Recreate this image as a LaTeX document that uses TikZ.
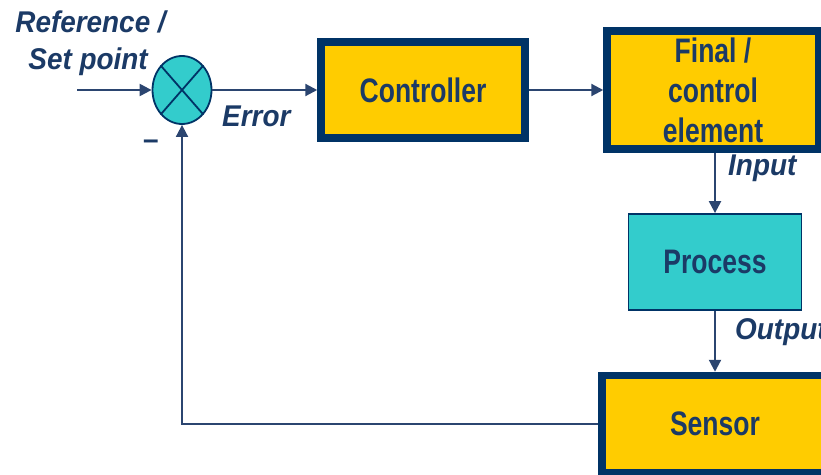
\documentclass[tikz,border=0pt]{standalone}
\usepackage{fontspec}
\setmainfont{Liberation Sans}[FakeStretch=0.93]
\newfontfamily\blockfont{Liberation Sans}[FakeStretch=0.78]
\usetikzlibrary{arrows.meta,shapes.geometric}
\definecolor{navy}{HTML}{003366}
\definecolor{ink}{HTML}{1B3A66}
\definecolor{wire}{HTML}{2B4570}
\definecolor{gold}{HTML}{FFCC00}
\definecolor{teal}{HTML}{33CCCC}
\tikzset{
  heavybox/.style={draw=navy, line width=7.5pt, fill=gold, text=ink,
    font=\blockfont\fontsize{34}{40}\selectfont\bfseries, align=center, inner sep=0pt},
  lightbox/.style={draw=navy, line width=1.8pt, fill=teal, text=ink,
    font=\blockfont\fontsize{34}{40}\selectfont\bfseries, inner sep=0pt},
  junction/.style={ellipse, draw=navy, line width=1.8pt, fill=teal, inner sep=0pt},
  signal/.style={draw=wire, line width=2.2pt, -{Triangle[length=12pt,width=12pt]}},
  tag/.style={text=ink, font=\fontsize{30}{34}\selectfont\bfseries\itshape, inner sep=0pt},
}
\begin{document}
\begin{tikzpicture}[x=1pt, y=-1pt]
\useasboundingbox (0,0) rectangle (821,474);

% blocks
\node[junction, minimum width=59pt, minimum height=68pt] (sum) at (182,90) {};
\draw[navy, line width=1.8pt] (sum.north west) -- (sum.south east)
                              (sum.north east) -- (sum.south west);
\node[heavybox, minimum width=204pt, minimum height=96pt] (ctrl) at (423,90) {Controller};
\node[heavybox, minimum width=212pt, minimum height=118pt] (final) at (713,90)
  {Final /\\control\\element};
\node[lightbox, minimum width=173pt, minimum height=96pt] (proc) at (715,262) {Process};
\node[heavybox, minimum width=226pt, minimum height=97pt] (sens) at (715,424) {Sensor};

% inputs and feedback
\coordinate (ref) at (77,90);
\draw[signal] (ref) -- (sum.west);
\draw[signal] (sum.east) -- (ctrl.west);
\draw[signal] (ctrl.east) -- (final.west);
\draw[signal] (final.south -| proc.north) -- (proc.north);
\draw[signal] (proc.south) -- (sens.north);
\draw[signal, line width=1.8pt] (sens.west) -- (sum.south |- sens.west) -- (sum.south);

% labels
\node[tag, anchor=east] (lref) at (166,22) {Reference /};
\node[tag, anchor=east] (lset) at (148,62) {Set point};
\node[tag, anchor=west] (lerr) at (222,116) {Error};
\node[tag, font=\fontsize{30}{34}\selectfont\bfseries] (lminus) at (151,145) {–};
\node[tag, anchor=west] (lin) at (728,168) {Input};
\node[tag, anchor=west] (lout) at (735,332) {Output};
\end{tikzpicture}
\end{document}
